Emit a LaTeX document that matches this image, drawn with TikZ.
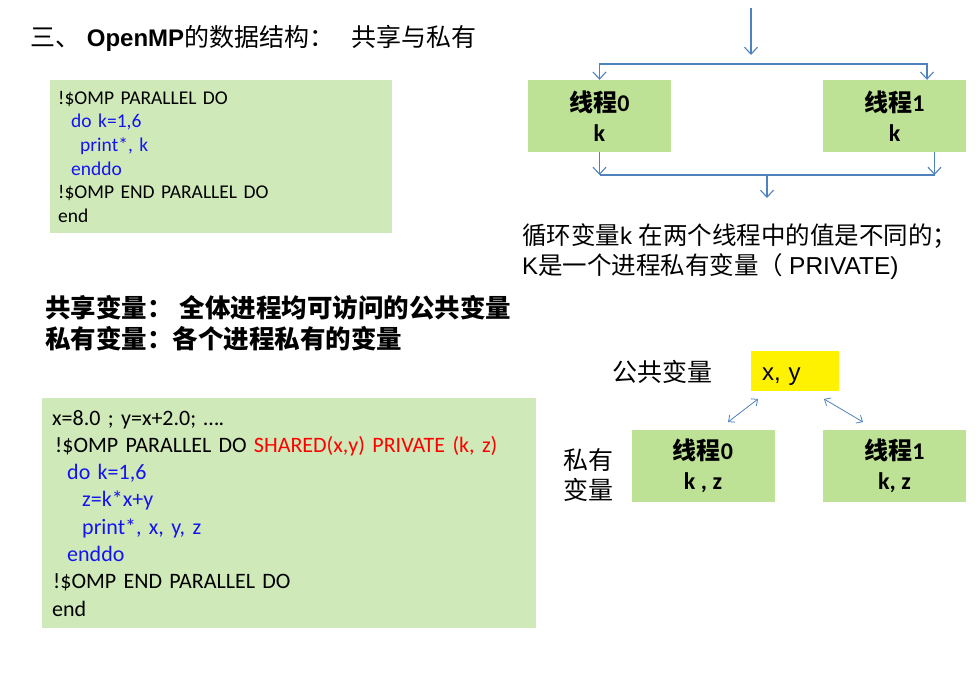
\documentclass[tikz,border=0pt]{standalone}
\usepackage{fontspec}
\usepackage{xcolor}
\setmainfont{Liberation Sans}
\newfontfamily\cjk{Noto Sans CJK SC}
\newfontfamily\codefont{Carlito}
\usetikzlibrary{positioning,calc,arrows.meta}

\definecolor{codegreen}{HTML}{D0E9B9}
\definecolor{threadgreen}{HTML}{BEE295}
\definecolor{flowblue}{HTML}{4F81BD}
\definecolor{codeblue}{HTML}{1414F0}
\definecolor{codered}{HTML}{FF0000}
\newcommand{\zh}[1]{{\cjk #1}}

\tikzset{
  codebox/.style={fill=codegreen, anchor=north west, align=left, inner ysep=0pt},
  thread/.style={fill=threadgreen, minimum width=143pt, minimum height=72pt, inner sep=0pt,
    align=center, font=\codefont\bfseries\fontsize{24}{30}\selectfont},
  flow/.style={draw=flowblue, line width=1.1pt},
  tip/.style={-{Straight Barb[length=7pt,width=13pt]}},
  both/.style={draw=flowblue, line width=0.8pt,
    {Straight Barb[length=5pt,width=9pt]}-{Straight Barb[length=5pt,width=9pt]}},
  label/.style={anchor=west, align=left, inner sep=0pt}
}

\begin{document}
\begin{tikzpicture}[x=1pt,y=-1pt]
  \useasboundingbox (0,0) rectangle (979,684);

  % title
  \node[label, font=\fontsize{24}{28}\selectfont] (title) at (30,38)
    {{\cjk\fontsize{25}{28}\selectfont 三、} \textbf{OpenMP}{\cjk\fontsize{25}{28}\selectfont 的数据结构：\hspace{17pt}共享与私有}};

  % first code block
  \node[codebox, minimum width=342pt, minimum height=153pt, text width=326pt, inner xsep=8pt,
    font=\codefont\fontsize{19.5}{23.6}\selectfont] (code1) at (50,80)
    {!\$OMP PARALLEL DO\\
     \hspace*{13pt}\textcolor{codeblue}{do k=1,6}\\
     \hspace*{22pt}\textcolor{codeblue}{print*, k}\\
     \hspace*{13pt}\textcolor{codeblue}{enddo}\\
     !\$OMP END PARALLEL DO\\
     end};

  % two threads with k
  \node[thread] (t0) at (599.5,116) {\zh{线程}0\\k};
  \node[thread] (t1) at (894.5,116) {\zh{线程}1\\k};

  \coordinate (src) at (751,8);
  \coordinate (srcend) at (751,55);
  \coordinate (fork) at (751,64);
  \coordinate (t1in) at ($(t1.north)+(32.5,0)$);
  \coordinate (t1out) at ($(t1.south)+(40,0)$);
  \coordinate (join) at (767,175);
  \coordinate (merge) at (767,198);

  \draw[flow,tip] (src) -- (srcend);
  \draw[flow,tip] (fork) -| (t0.north);
  \draw[flow,tip] (fork) -| (t1in);
  \draw[flow,tip] (t0.south) -- (t0.south |- join);
  \draw[flow,tip] (t1out) -- (t1out |- join);
  \draw[flow] (t0.south |- join) -- (t1out |- join);
  \draw[flow,tip] (join) -- (merge);

  \node[label, font=\fontsize{24}{30}\selectfont] (note) at (522,252)
    {{\cjk\fontsize{24.5}{30}\selectfont 循环变量}k {\cjk\fontsize{24.5}{30}\selectfont 在两个线程中的值是不同的；}\\
     K{\cjk\fontsize{24.5}{30}\selectfont 是一个进程私有变量（}\hspace{6pt}{\fontsize{24.5}{30}\selectfont PRIVATE)}};

  % definitions
  \node[label, font=\cjk\bfseries\fontsize{25.5}{31}\selectfont] (defs) at (45,323.5)
    {共享变量：\hspace{7pt}全体进程均可访问的公共变量\\
     私有变量：各个进程私有的变量};

  % second code block
  \node[codebox, minimum width=494pt, minimum height=230pt, text width=474pt, inner xsep=10pt,
    font=\codefont\fontsize{22}{27.3}\selectfont] (code2) at (42,398)
    {x=8.0 ; y=x+2.0; \dots.\\
     \hspace*{3pt}!\$OMP PARALLEL DO \textcolor{codered}{SHARED(x,y) PRIVATE (k, z)}\\
     \hspace*{15pt}\textcolor{codeblue}{do k=1,6}\\
     \hspace*{30pt}\textcolor{codeblue}{z=k*x+y}\\
     \hspace*{30pt}\textcolor{codeblue}{print*, x, y, z}\\
     \hspace*{15pt}\textcolor{codeblue}{enddo}\\
     \hspace*{1pt}!\$OMP END PARALLEL DO\\
     end};

  % shared and private variables
  \node[label, font=\cjk\fontsize{25}{28}\selectfont] (sharedlbl) at (612,372) {公共变量};
  \node[fill=yellow, minimum width=88pt, minimum height=40pt, text width=66pt, inner xsep=11pt,
    inner ysep=0pt, text height=18pt, text depth=0pt, align=left,
    font=\fontsize{24}{28}\selectfont] (shared) at (795,371) {x, y};

  \node[thread] (p0) at (703,466) {\zh{线程}0\\k , z};
  \node[thread] (p1) at (894.5,466) {\zh{线程}1\\k, z};
  \node[label, font=\cjk\fontsize{25}{30}\selectfont] (privlbl) at (563,475) {私有\\变量};

  \coordinate (a0) at (728,422);
  \coordinate (b0) at (758,399);
  \coordinate (a1) at (824,399);
  \coordinate (b1) at (863,422);
  \draw[both] (a0) -- (b0);
  \draw[both] (a1) -- (b1);
\end{tikzpicture}
\end{document}
